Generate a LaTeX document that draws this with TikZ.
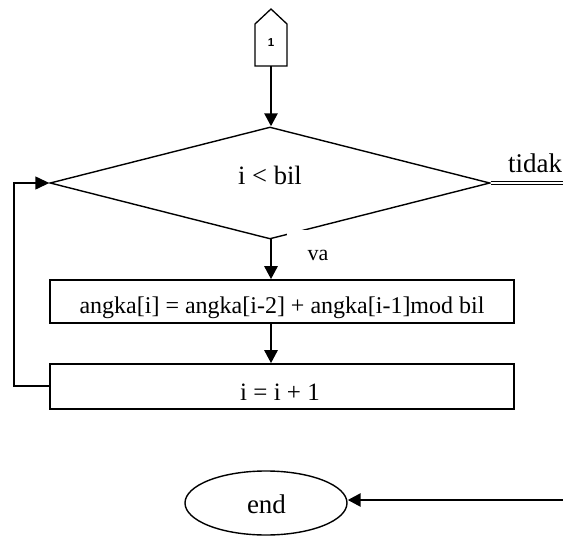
\documentclass[tikz,border=0pt]{standalone}
\usepackage{fontspec}
\setmainfont{Liberation Serif}
\newfontfamily\sansbold{Liberation Sans}
\usetikzlibrary{shapes.geometric,arrows.meta}
\newcommand{\lbl}[2]{{\fontsize{#1}{#1}\selectfont #2}}
\begin{document}
\begin{tikzpicture}[x=1pt,y=-1pt,
  flowbox/.style={draw, line width=1.6pt, minimum width=464pt, inner sep=0},
  thinline/.style={line width=1.4pt},
  flowarrow/.style={line width=2.6pt, -{Triangle[length=13pt,width=13pt]}},
  looparrow/.style={line width=1.4pt, -{Triangle[length=14pt,width=13pt]}},
  txt/.style={anchor=base, inner sep=0}
]
\useasboundingbox (0,0) rectangle (563,536);

% off-page connector
\draw[line width=1.3pt] (255,24) -- (271,9) -- (287,24) -- (287,66) -- (255,66) -- cycle;
\coordinate (pbot) at (271,66);
\node[txt] (one) at (271,46) {\sansbold\bfseries\fontsize{11.5}{11.5}\selectfont 1};

% decision
\node[diamond, draw, thinline, minimum width=440pt, minimum height=112pt, inner sep=0] (dec) at (270,183) {};
\node[txt] (cond) at (270,184) {\lbl{26.5}{i < bil}};

% boxes
\node[flowbox, minimum height=43pt] (b1) at (282,301.5) {};
\node[txt] (t1) at (282,313) {\lbl{24}{angka[i] = angka[i-2] + angka[i-1]mod bil}};
\node[flowbox, minimum height=45pt] (b2) at (282,386.5) {};
\node[txt] (t2) at (280,400) {\lbl{25}{i = i + 1}};

% end
\node[ellipse, draw, thinline, minimum width=162pt, minimum height=64pt, inner sep=0] (endnode) at (266,503) {};
\node[txt] (tend) at (266.5,513) {\lbl{27}{end}};

% connectors
\draw[flowarrow] (pbot) -- (pbot |- dec.north);
\coordinate (dbot) at (271,239);
\draw[flowarrow] (dbot) -- (dbot |- b1.north);
\coordinate (b1bot) at (271,323);
\draw[flowarrow] (b1bot) -- (b1bot |- b2.north);

% gap behind "va"
\fill[white] (287,229.6) rectangle (335,266);
\node[txt] (va) at (318,260) {\lbl{22}{va}};

% loop back
\coordinate (lc) at (14,386);
\draw[looparrow] (b2.west |- lc) -- (lc) |- (dec.west);

% tidak
\coordinate (tend2) at (563,183);
\draw[double, line width=0.9pt, double distance=1.6pt] (dec.east) -- (tend2);
\node[txt] (tidak) at (535,172) {\lbl{27}{tidak}};

% into end
\coordinate (esrc) at (563,500);
\draw[flowarrow] (esrc) -- (esrc -| endnode.east);
\end{tikzpicture}
\end{document}
